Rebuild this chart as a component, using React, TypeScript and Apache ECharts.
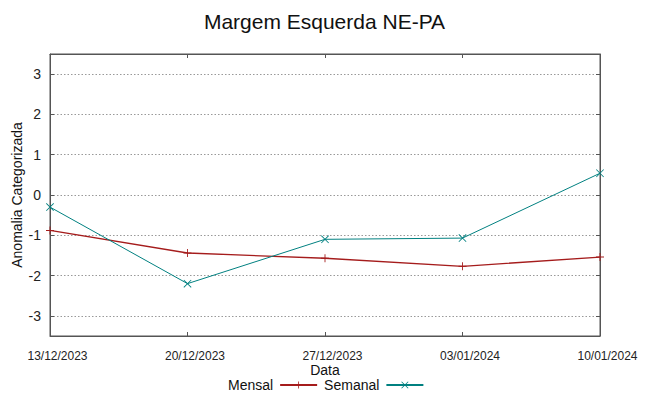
import React, { useEffect, useRef } from "react";
import * as echarts from "echarts";

const TITLE = "Margem Esquerda NE-PA";
const DATES = ["13/12/2023", "20/12/2023", "27/12/2023", "03/01/2024", "10/01/2024"];
const MENSAL = [-0.88, -1.44, -1.57, -1.77, -1.54];
const SEMANAL = [-0.3, -2.2, -1.1, -1.07, 0.54];
const Y_MIN = -3.5;
const Y_MAX = 3.5;

const RED = "#a51c1c";
const TEAL = "#008080";
const FONT = "Liberation Sans, Arial, sans-serif";

const PLUS = "path://M0,4.45H10V5.55H0Z M4.45,0H5.55V10H4.45Z";
const CROSS = "path://M0,0.75L0.75,0L10,9.25L9.25,10Z M9.25,0L10,0.75L0.75,10L0,9.25Z";

export default function App() {
  const ref = useRef<HTMLDivElement>(null);
  useEffect(() => {
    if (!ref.current) return;
    const chart = echarts.init(ref.current, null, { renderer: "svg" });
    const axisLine = { show: true, onZero: false, lineStyle: { color: "#555", width: 1 } };
    const tick = { show: true, inside: true, length: 4, lineStyle: { color: "#555" } };
    chart.setOption({
      animation: false,
      backgroundColor: "#fff",
      title: {
        text: TITLE,
        left: "center",
        top: 6,
        textStyle: { fontFamily: FONT, fontSize: 21, fontWeight: "normal", color: "#111" },
      },
      legend: {
        left: 228,
        top: 378,
        padding: 0,
        align: "right",
        itemWidth: 37,
        itemHeight: 9,
        itemGap: 6,
        textStyle: { fontFamily: FONT, fontSize: 14, lineHeight: 13, color: "#111", padding: [0, 2, 0, 0] },
        data: ["Mensal", "Semanal"],
      },
      grid: { left: 50, right: 49, top: 54, bottom: 60, show: true, borderColor: "#555", borderWidth: 1 },
      xAxis: [
        {
          type: "category",
          data: DATES,
          boundaryGap: false,
          position: "bottom",
          name: "Data",
          nameLocation: "middle",
          nameGap: 27,
          nameMoveOverlap: false,
          nameTextStyle: { fontFamily: FONT, fontSize: 14, lineHeight: 13, color: "#111" },
          axisLine,
          axisTick: tick,
          axisLabel: { fontFamily: FONT, fontSize: 12, color: "#222", margin: 14, padding: [0, 0, 0, 15], interval: 0 },
          splitLine: { show: false },
        },
        {
          type: "category",
          data: DATES,
          boundaryGap: false,
          position: "top",
          axisLine,
          axisTick: tick,
          axisLabel: { show: false },
          splitLine: { show: false },
        },
      ],
      yAxis: [
        {
          type: "value",
          min: Y_MIN,
          max: Y_MAX,
          splitNumber: 7,
          position: "left",
          name: "Anomalia Categorizada",
          nameLocation: "middle",
          nameGap: 26,
          nameMoveOverlap: false,
          nameTextStyle: { fontFamily: FONT, fontSize: 14, color: "#111" },
          axisLine,
          axisTick: tick,
          axisLabel: {
            fontFamily: FONT,
            fontSize: 14,
            color: "#222",
            margin: 9,
            showMinLabel: false,
            showMaxLabel: false,
          },
          splitLine: { show: true, lineStyle: { color: "#999", type: [1.5, 2], width: 1 } },
        },
        {
          type: "value",
          min: Y_MIN,
          max: Y_MAX,
          splitNumber: 7,
          position: "right",
          axisLine,
          axisTick: tick,
          axisLabel: { show: false },
          splitLine: { show: false },
        },
      ],
      series: [
        {
          name: "Mensal",
          type: "line",
          data: MENSAL,
          symbol: PLUS,
          symbolSize: 8,
          showSymbol: true,
          color: RED,
          lineStyle: { color: RED, width: 1.3 },
          itemStyle: { color: RED, borderWidth: 0 },
        },
        {
          name: "Semanal",
          type: "line",
          data: SEMANAL,
          symbol: CROSS,
          symbolSize: 8,
          showSymbol: true,
          color: TEAL,
          lineStyle: { color: TEAL, width: 1 },
          itemStyle: { color: TEAL, borderWidth: 0 },
        },
      ],
    });
    return () => chart.dispose();
  }, []);
  return <div ref={ref} style={{ width: 649, height: 396, position: "absolute", left: 0, top: 0 }} />;
}
